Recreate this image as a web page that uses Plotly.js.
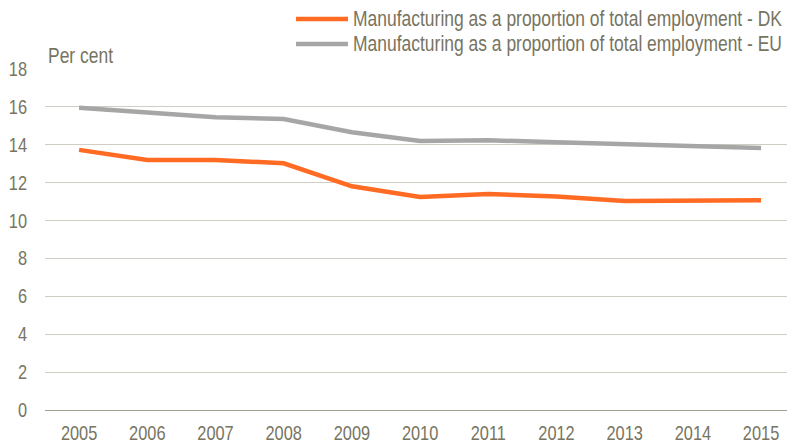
<!DOCTYPE html>
<html><head><meta charset="utf-8">
<script src="https://cdn.plot.ly/plotly-3.0.1.min.js"></script>
<style>html,body{margin:0;padding:0;background:#fff}#c{width:787px;height:446px}</style>
</head><body><div id="c"></div>
<script>
const years = [2005,2006,2007,2008,2009,2010,2011,2012,2013,2014,2015];
const dk = [13.73,13.20,13.20,13.02,11.81,11.24,11.40,11.27,11.03,11.05,11.07];
const eu = [15.96,15.70,15.45,15.36,14.66,14.20,14.24,14.13,14.03,13.92,13.83];
const seriesNames = ["Manufacturing as a proportion of total employment - DK","Manufacturing as a proportion of total employment - EU"];
const yTicks = [0,2,4,6,8,10,12,14,16,18];
const yLabel = "Per cent";

const FONT = '"Liberation Sans",Arial,sans-serif';
const NARROW = 0.82;  // emulate a narrow typeface
const TXT = '#77745f';
const W = 787, H = 446, L = 45, R = 0, T = 69, B = 36;
const pw = W - L - R, ph = H - T - B;
const px = x => (x - L) / pw;
const py = y => (H - B - y) / ph;
const colors = ['#ff6b22', '#a6a6a6'];

const traces = [dk, eu].map((v, i) => ({
  x: years, y: v, type: 'scatter', mode: 'lines', name: seriesNames[i],
  line: {color: colors[i], width: 4.5}, hoverinfo: 'skip', showlegend: false
}));

const shapes = [], annotations = [];
[19, 44].forEach((yy, i) => {
  shapes.push({type: 'line', xref: 'paper', yref: 'paper', x0: px(296), x1: px(348), y0: py(yy), y1: py(yy),
    line: {color: colors[i], width: 4.5}});
  annotations.push({xref: 'paper', yref: 'paper', x: px(351), y: py(yy), xanchor: 'left', yanchor: 'middle',
    text: seriesNames[i], showarrow: false, font: {family: FONT, size: 21.3, color: TXT}});
});
annotations.push({xref: 'paper', yref: 'paper', x: px(46), y: py(56), xanchor: 'left', yanchor: 'middle',
  text: yLabel, showarrow: false, font: {family: FONT, size: 21.3, color: TXT}});

const layout = {
  width: W, height: H, margin: {l: L, r: R, t: T, b: B, pad: 0},
  paper_bgcolor: '#fff', plot_bgcolor: '#fff', showlegend: false,
  font: {family: FONT, size: 20, color: TXT},
  xaxis: {type: 'linear', range: [2004.5, 2015.38], tickvals: years, ticktext: years.map(String),
    showgrid: false, zeroline: false, showline: true, linecolor: '#a3a18d', linewidth: 1.3,
    ticks: '', ticklabelstandoff: 5, tickfont: {family: FONT, size: 20, color: TXT}, fixedrange: true},
  yaxis: {range: [0, 18], tickvals: yTicks, ticktext: yTicks.map(String), showgrid: true,
    gridcolor: '#d0cec4', gridwidth: 1, zeroline: false, showline: false, ticks: '',
    tickfont: {family: FONT, size: 20, color: TXT}, fixedrange: true},
  shapes: shapes, annotations: annotations
};

function narrow(el, mode, dx) {
  const bb = el.getBBox();
  const x0 = mode === 'left' ? bb.x : mode === 'right' ? bb.x + bb.width : bb.x + bb.width / 2;
  const prev = el.getAttribute('transform') || '';
  el.setAttribute('transform', prev + ` translate(${x0 + (dx || 0)},0) scale(${NARROW},1) translate(${-x0},0)`);
}
Plotly.newPlot('c', traces, layout, {displayModeBar: false, staticPlot: true}).then(gd => {
  gd.querySelectorAll('g.xtick text').forEach(t => narrow(t, 'center'));
  gd.querySelectorAll('g.ytick text').forEach(t => {
    narrow(t, 'right', 0);
    const r = t.getBoundingClientRect();
    const svgR = gd.querySelector('svg.main-svg').getBoundingClientRect();
    const shift = (27 - (r.right - svgR.left));
    const prev = t.getAttribute('transform') || '';
    t.setAttribute('transform', `translate(${shift},0) ` + prev);
  });
  gd.querySelectorAll('text.annotation-text').forEach(t => narrow(t, 'left'));
});
</script></body></html>
